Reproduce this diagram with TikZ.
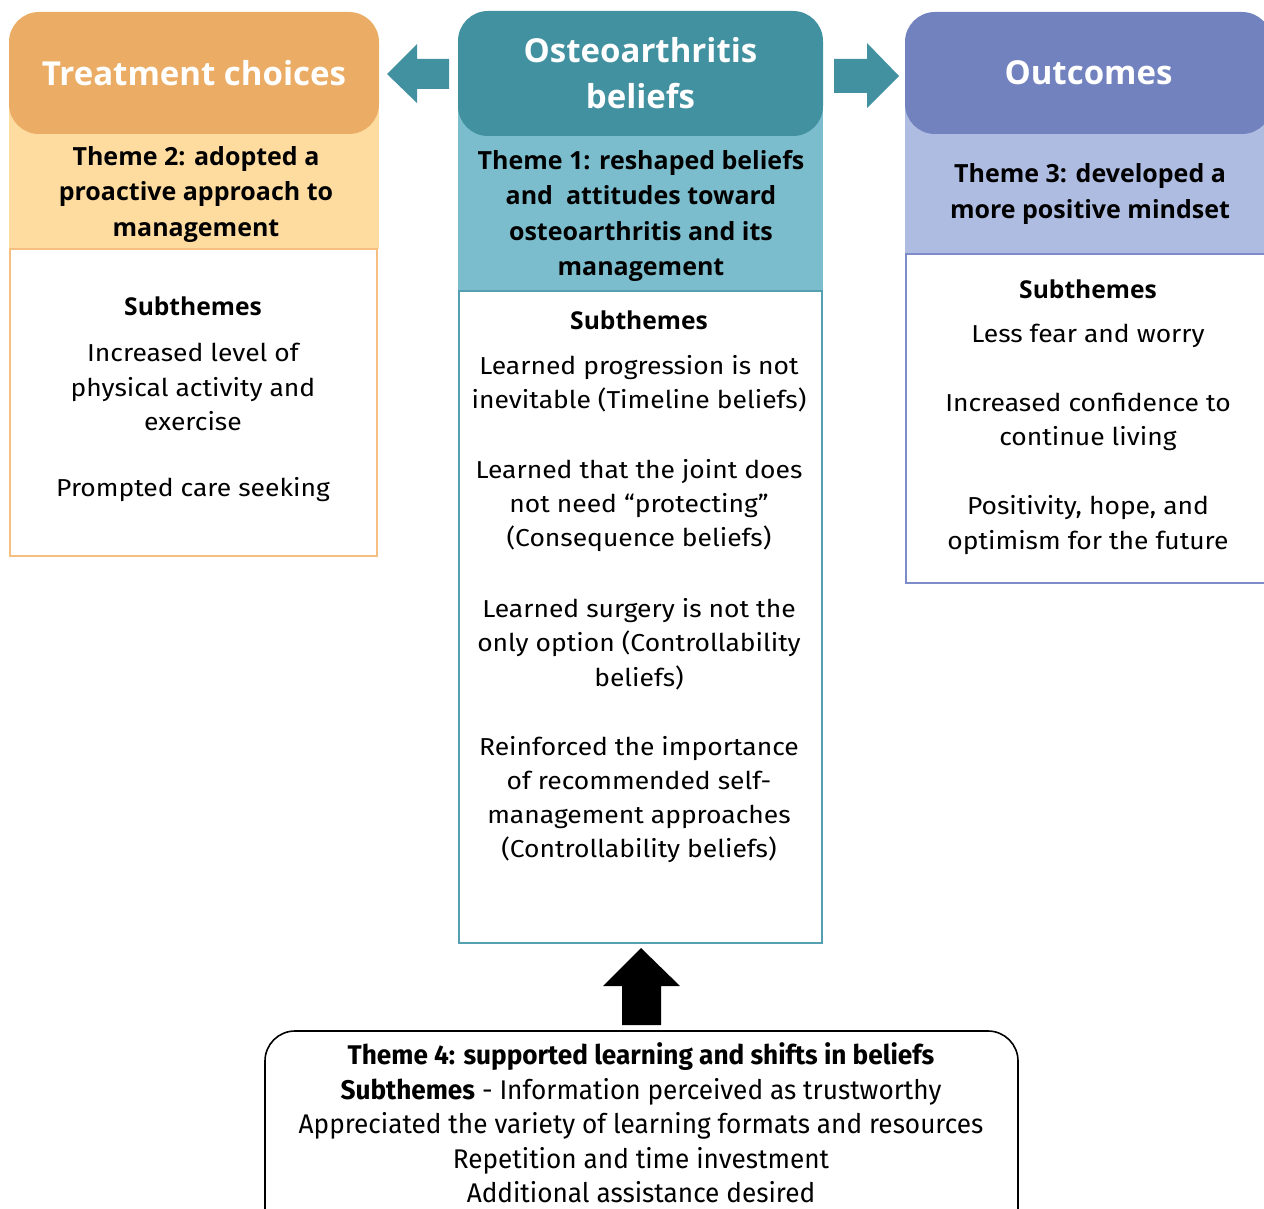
\documentclass[tikz,border=0pt]{standalone}
\usepackage{fontspec}
\setmainfont[FakeStretch=1.08]{Fira Sans}
\newfontfamily\hfont{Open Sans}
\newfontfamily\cfont[FakeStretch=0.97]{Fira Sans}
\definecolor{orHead}{RGB}{235,173,102}
\definecolor{orBand}{RGB}{254,219,158}
\definecolor{orLine}{RGB}{244,191,128}
\definecolor{tlHead}{RGB}{66,145,160}
\definecolor{tlBand}{RGB}{123,189,204}
\definecolor{tlLine}{RGB}{84,160,176}
\definecolor{blHead}{RGB}{114,130,191}
\definecolor{blBand}{RGB}{175,188,226}
\definecolor{blLine}{RGB}{125,140,200}
\tikzset{
  hdr/.style={rounded corners=30pt, inner sep=0pt, text=white, align=center,
    font=\hfont\bfseries\fontsize{33}{46}\selectfont},
  themetxt/.style={align=center, inner sep=0pt, font=\hfont\bfseries\fontsize{25}{35.5}\selectfont},
  subhd/.style={inner sep=0pt, font=\hfont\bfseries\fontsize{24.6}{34}\selectfont},
  body/.style={align=center, inner sep=0pt, font=\fontsize{24.5}{34.3}\selectfont},
  blockarrow/.style={fill=tlHead},
}
\begin{document}
\begin{tikzpicture}[x=1pt,y=-1pt]
\useasboundingbox (0,0) rectangle (1264,1209);
\clip (0,0) rectangle (1264,1209);

% ---------- left column ----------
\fill[orBand] (9,100) rectangle (379,249);
\draw[orLine, line width=1.6pt, fill=white] (9.8,249) rectangle (377,556);
\node[hdr, fill=orHead, minimum width=370pt, minimum height=122pt] (tc) at (194,73) {Treatment choices};
\node[themetxt] (t2) at (196,194.5) {Theme 2: adopted a\\proactive approach to\\management};
\node[subhd] (s2) at (193,306) {Subthemes};
\node[body] (l1) at (193,387) {Increased level of\\physical activity and\\exercise};
\node[body] (l2) at (193,490) {Prompted care seeking};

% ---------- middle column ----------
\fill[tlBand] (458,100) rectangle (823,291);
\draw[tlLine, line width=1.6pt, fill=white] (458.8,291) rectangle (822.2,943);
\node[hdr, fill=tlHead, minimum width=365pt, minimum height=125pt] (ob) at (640.5,73.5) {Osteoarthritis\\beliefs};
\node[themetxt] (t1) at (641,216) {Theme 1: reshaped beliefs\\and\ \ attitudes toward\\osteoarthritis and its\\management};
\node[subhd] (s1) at (639,320) {Subthemes};
\node[body] (m1) at (639,384) {Learned progression is not\\inevitable (Timeline beliefs)};
\node[body] (m2) at (639,505.5) {Learned that the joint does\\not need \textquotedblleft protecting\textquotedblright\\(Consequence beliefs)};
\node[body] (m3) at (639,644) {Learned surgery is not the\\only option (Controllability\\beliefs)};
\node[body] (m4) at (639,799.5) {Reinforced the importance\\of recommended self-\\management approaches\\(Controllability beliefs)};

% ---------- right column ----------
\fill[blBand] (905,100) rectangle (1272,254);
\draw[blLine, line width=1.6pt, fill=white] (905.8,254) rectangle (1272,583);
\node[hdr, fill=blHead, minimum width=367pt, minimum height=122pt] (oc) at (1088.5,73) {Outcomes};
\node[themetxt] (t3) at (1090,194) {Theme 3: developed a\\more positive mindset};
\node[subhd] (s3) at (1088,289) {Subthemes};
\node[body] (r1) at (1088,336) {Less fear and worry};
\node[body] (r2) at (1088,422) {Increased confidence to\\continue living};
\node[body] (r3) at (1088,525) {Positivity, hope, and\\optimism for the future};

% ---------- bottom box ----------
\node[draw=black, line width=1.6pt, rounded corners=30pt, minimum width=753pt, minimum height=210pt, inner sep=0pt] (b4) at (641.5,1136) {};
\node[align=center, inner sep=0pt, font=\cfont\fontsize{27}{34.5}\selectfont] (b4t) at (641,1123)
  {\textbf{Theme 4: supported learning and shifts in beliefs}\\
   \textbf{Subthemes} - Information perceived as trustworthy\\
   Appreciated the variety of learning formats and resources\\
   Repetition and time investment\\
   Additional assistance desired};

% ---------- block arrows ----------
\fill[blockarrow] (387,74) -- (417,44) -- (417,59) -- (449,59) -- (449,89) -- (417,89) -- (417,103) -- cycle;
\fill[blockarrow] (834,59) -- (867,59) -- (867,43) -- (899,76) -- (867,108) -- (867,93) -- (834,93) -- cycle;
\fill[black] (641,948) -- (680,986) -- (661,986) -- (661,1025) -- (622,1025) -- (622,986) -- (603,986) -- cycle;
\end{tikzpicture}
\end{document}
